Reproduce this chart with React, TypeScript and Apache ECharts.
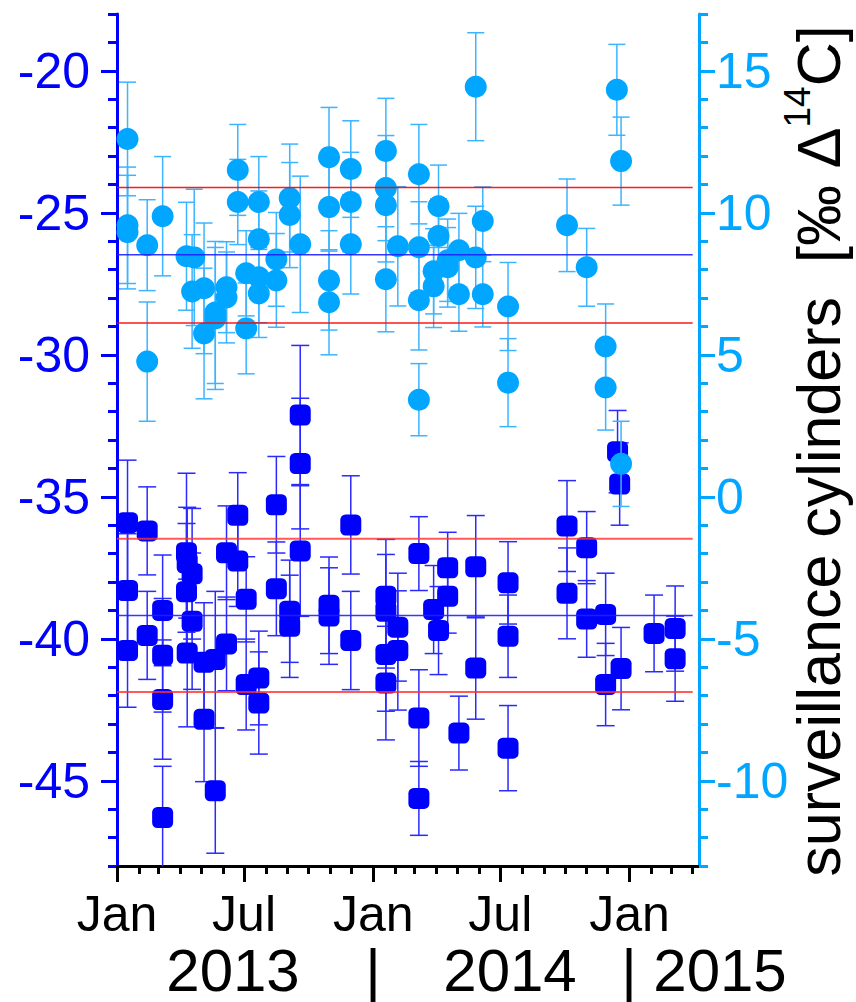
import React, { useEffect, useRef } from "react";
import * as echarts from "echarts";

const FONT = "'Liberation Sans', Arial, Helvetica, sans-serif";

// Light-blue circles (right axis, ‰ Δ14C)
const circleDates = [
  "2013-01-16", "2013-01-16", "2013-01-16", "2013-02-13", "2013-02-13", "2013-03-07",
  "2013-04-10", "2013-04-21", "2013-04-18", "2013-05-05", "2013-05-05", "2013-05-21",
  "2013-05-21", "2013-06-06", "2013-06-06", "2013-06-22", "2013-06-22", "2013-07-04",
  "2013-07-04", "2013-07-22", "2013-07-22", "2013-07-22", "2013-07-22", "2013-08-16",
  "2013-08-16", "2013-09-04", "2013-09-04", "2013-09-19", "2013-10-30", "2013-10-30",
  "2013-10-30", "2013-10-30", "2013-11-30", "2013-11-30", "2013-11-30", "2014-01-19",
  "2014-01-19", "2014-01-19", "2014-01-19", "2014-02-05", "2014-03-07", "2014-03-07",
  "2014-03-07", "2014-03-07", "2014-04-04", "2014-04-04", "2014-03-28", "2014-03-28",
  "2014-04-17", "2014-04-17", "2014-05-03", "2014-05-03", "2014-05-27", "2014-05-27",
  "2014-06-06", "2014-06-06", "2014-07-12", "2014-07-12", "2014-10-04", "2014-11-01",
  "2014-11-28", "2014-11-28", "2014-12-14", "2014-12-20", "2014-12-20",
];
const circleValues = [
  12.6, 9.56, 9.32, 8.86, 4.76, 9.88,
  8.47, 8.43, 7.23, 7.34, 5.75, 6.49,
  6.28, 7.38, 7.02, 11.51, 10.38, 7.87,
  5.93, 10.38, 9.07, 7.73, 7.16, 8.36,
  7.62, 10.52, 9.92, 8.89, 11.96, 10.2,
  7.62, 6.85, 11.54, 10.38, 8.89, 12.18,
  10.87, 10.27, 7.66, 8.82, 11.36, 8.79,
  6.92, 3.42, 10.23, 9.18, 7.94, 7.41,
  8.33, 8.08, 8.68, 7.13, 14.44, 8.43,
  9.71, 7.13, 6.7, 4.02, 9.56, 8.08,
  5.29, 3.85, 14.33, 11.82, 1.16,
];
const circleErrors = [
  2.0, 2.05, 2.0, 1.6, 2.1, 2.1,
  1.9, 2.4, 2.0, 2.3, 2.3, 2.5,
  2.5, 1.6, 1.6, 1.6, 1.5, 1.5,
  1.6, 1.6, 1.7, 1.6, 1.55, 1.65,
  1.65, 1.9, 1.85, 2.4, 1.75, 1.55,
  1.75, 1.85, 1.7, 1.75, 1.75, 1.85,
  1.85, 2.0, 1.85, 2.1, 1.75, 1.6,
  1.75, 1.27, 1.45, 1.3, 1.5, 1.45,
  1.45, 1.4, 1.3, 1.3, 1.9, 1.8,
  1.2, 1.15, 1.55, 1.55, 1.63, 1.37,
  1.5, 1.5, 1.6, 1.55, 1.5,
];

// Blue squares (left axis)
const squareDates = [
  "2013-01-16", "2013-01-16", "2013-01-16", "2013-02-13", "2013-02-13", "2013-03-07",
  "2013-03-07", "2013-03-07", "2013-03-07", "2013-04-10", "2013-04-11", "2013-04-18",
  "2013-04-10", "2013-04-18", "2013-04-11", "2013-05-05", "2013-05-05", "2013-05-21",
  "2013-05-21", "2013-06-06", "2013-06-06", "2013-06-22", "2013-06-22", "2013-07-04",
  "2013-07-04", "2013-07-22", "2013-07-22", "2013-08-16", "2013-08-16", "2013-09-04",
  "2013-09-04", "2013-09-19", "2013-09-19", "2013-09-19", "2013-10-30", "2013-10-30",
  "2013-11-30", "2013-11-30", "2014-01-19", "2014-01-19", "2014-01-19", "2014-01-19",
  "2014-02-05", "2014-02-05", "2014-03-07", "2014-03-07", "2014-03-07", "2014-03-28",
  "2014-04-04", "2014-04-17", "2014-04-17", "2014-05-03", "2014-05-27", "2014-05-27",
  "2014-07-12", "2014-07-12", "2014-07-12", "2014-10-04", "2014-10-04", "2014-11-01",
  "2014-11-01", "2014-11-28", "2014-11-28", "2014-12-15", "2014-12-18", "2014-12-20",
  "2015-02-05", "2015-03-07", "2015-03-07",
];
const squareValues = [
  -35.91, -38.3, -40.41, -36.2, -39.88, -39.0,
  -40.58, -42.14, -46.29, -36.97, -37.32, -37.71,
  -38.34, -39.38, -40.5, -40.83, -42.83, -40.73,
  -45.35, -36.97, -40.18, -35.65, -37.26, -38.61,
  -41.61, -41.38, -42.26, -35.28, -38.24, -39.03,
  -39.56, -32.12, -33.83, -36.91, -38.82, -39.2,
  -35.99, -40.06, -38.5, -39.03, -40.55, -41.56,
  -39.59, -40.41, -37.0, -42.79, -45.62, -38.97,
  -39.71, -37.5, -38.5, -43.32, -37.46, -41.03,
  -38.03, -39.91, -43.85, -36.03, -38.4, -36.79,
  -39.3, -39.14, -41.61, -33.41, -34.55, -41.05,
  -39.81, -39.64, -40.7,
];
const squareErrors = [
  2.2, 2.0, 2.0, 1.55, 1.55, 1.95,
  2.0, 2.1, 1.8, 2.8, 1.95, 2.3,
  2.4, 2.4, 2.6, 2.1, 2.2, 2.4,
  2.2, 1.65, 1.65, 1.5, 1.6, 1.5,
  1.6, 1.65, 1.8, 1.7, 1.65, 1.8,
  1.8, 2.45, 2.3, 2.3, 1.7, 1.7,
  1.73, 1.73, 2.0, 2.0, 2.0, 2.0,
  1.9, 2.1, 1.3, 1.7, 1.3, 1.55,
  1.55, 1.25, 1.3, 1.3, 1.8, 1.8,
  1.45, 1.45, 1.5, 1.6, 1.6, 1.27,
  1.35, 1.45, 1.45, 1.45, 1.45, 1.45,
  1.35, 1.5, 1.5,
];

// Mean and ±1σ reference lines
const upperLines = [10.89, 8.52, 6.12]; // right axis
const lowerLines = [-36.48, -39.18, -41.87]; // left axis
const lineSpan = ["2013-01-01", "2015-04-01"];

// Axes
const xRange = ["2013-01-01", "2015-04-10"];
const xLabelTicks = ["2013-01-01", "2013-07-01", "2014-01-01", "2014-07-01", "2015-01-01"];
const monthTicks = [
  "2013-01-01", "2013-02-01", "2013-03-01", "2013-04-01", "2013-05-01", "2013-06-01",
  "2013-07-01", "2013-08-01", "2013-09-01", "2013-10-01", "2013-11-01", "2013-12-01",
  "2014-01-01", "2014-02-01", "2014-03-01", "2014-04-01", "2014-05-01", "2014-06-01",
  "2014-07-01", "2014-08-01", "2014-09-01", "2014-10-01", "2014-11-01", "2014-12-01",
  "2015-01-01", "2015-02-01", "2015-03-01", "2015-04-01",
];
const monthNames = ["Jan", "Feb", "Mar", "Apr", "May", "Jun", "Jul", "Aug", "Sep", "Oct", "Nov", "Dec"];
const leftRange = [-48, -18];
const leftMajor = [-45, -40, -35, -30, -25, -20];
const rightRange = [-13, 17];
const rightMajor = [-10, -5, 0, 5, 10, 15];
const yearLabels = ["2013", "2014", "2015"];

const toT = (s: string) => Date.parse(s + "T00:00:00Z");

function errRender(capHalf: number, color: string, width: number) {
  return (params: any, api: any) => {
    const x = api.value(0);
    const lo = api.coord([x, api.value(1)]);
    const hi = api.coord([x, api.value(2)]);
    const style = { stroke: color, lineWidth: width, fill: null };
    return {
      type: "group",
      children: [
        { type: "line", shape: { x1: lo[0], y1: lo[1], x2: hi[0], y2: hi[1] }, style },
        { type: "line", shape: { x1: lo[0] - capHalf, y1: lo[1], x2: lo[0] + capHalf, y2: lo[1] }, style },
        { type: "line", shape: { x1: hi[0] - capHalf, y1: hi[1], x2: hi[0] + capHalf, y2: hi[1] }, style },
      ],
    };
  };
}

function intRange(a: number, b: number) {
  const out: number[] = [];
  for (let v = a; v <= b; v++) out.push(v);
  return out;
}

export default function App() {
  const ref = useRef<HTMLDivElement>(null);
  useEffect(() => {
    document.body.style.margin = "0";
    const chart = echarts.init(ref.current!, null, { renderer: "svg" });
    const xMin = toT(xRange[0]);
    const xMax = toT(xRange[1]);
    const majorX = xLabelTicks.map(toT);
    const minorX = monthTicks.map(toT);
    const blue = "#0000ff";
    const lightBlue = "#00a6ff";

    const yAxisCommon = (min: number, max: number, pos: string, color: string, major: number[], minor: boolean, margin: number) => ({
      type: "value",
      min,
      max,
      position: pos,
      axisLine: { show: !minor, onZero: false, lineStyle: { color, width: 3 } },
      axisTick: {
        show: true,
        inside: false,
        customValues: minor ? intRange(min, max) : major,
        length: minor ? 9 : 16,
        lineStyle: { color, width: 3 },
      },
      axisLabel: minor
        ? { show: false }
        : { show: true, customValues: major, fontSize: 50, color, fontFamily: FONT, margin },
      splitLine: { show: false },
    });

    const hLine = (v: number, yIdx: number, color: string, width: number, opacity: number) => ({
      type: "line",
      xAxisIndex: 0,
      yAxisIndex: yIdx,
      data: [[toT(lineSpan[0]), v], [toT(lineSpan[1]), v]],
      symbol: "none",
      silent: true,
      z: 6,
      lineStyle: { color, width, opacity },
    });

    const option: any = {
      animation: false,
      backgroundColor: "#ffffff",
      grid: { left: 117, right: 157, top: 14, bottom: 136, containLabel: false },
      xAxis: [
        {
          type: "value",
          min: xMin,
          max: xMax,
          position: "bottom",
          axisLine: { show: true, onZero: false, lineStyle: { color: "#000", width: 3 } },
          axisTick: { show: true, inside: false, customValues: majorX, length: 16, lineStyle: { color: "#000", width: 3 } },
          axisLabel: {
            show: true,
            customValues: majorX,
            formatter: (v: number) => monthNames[new Date(v).getUTCMonth()],
            fontSize: 50,
            color: "#000",
            fontFamily: FONT,
            margin: 23,
          },
          splitLine: { show: false },
        },
        {
          type: "value",
          min: xMin,
          max: xMax,
          position: "bottom",
          axisLine: { show: false, onZero: false },
          axisTick: { show: true, inside: false, customValues: minorX, length: 8, lineStyle: { color: "#000", width: 3 } },
          axisLabel: { show: false },
          splitLine: { show: false },
        },
      ],
      yAxis: [
        yAxisCommon(leftRange[0], leftRange[1], "left", blue, leftMajor, false, 27),
        yAxisCommon(leftRange[0], leftRange[1], "left", blue, leftMajor, true, 27),
        yAxisCommon(rightRange[0], rightRange[1], "right", lightBlue, rightMajor, false, 17),
        yAxisCommon(rightRange[0], rightRange[1], "right", lightBlue, rightMajor, true, 17),
      ],
      series: [
        {
          type: "custom",
          xAxisIndex: 0,
          yAxisIndex: 0,
          renderItem: errRender(9, "#2a2aff", 1.5),
          data: squareDates.map((d, i) => [toT(d), squareValues[i] - squareErrors[i], squareValues[i] + squareErrors[i]]),
          encode: { x: 0, y: [1, 2] },
          clip: true,
          silent: true,
          z: 2,
        },
        {
          type: "scatter",
          xAxisIndex: 0,
          yAxisIndex: 0,
          symbol: "roundRect",
          symbolSize: 21,
          itemStyle: { color: blue, opacity: 1 },
          data: squareDates.map((d, i) => [toT(d), squareValues[i]]),
          silent: true,
          z: 3,
        },
        {
          type: "custom",
          xAxisIndex: 0,
          yAxisIndex: 2,
          renderItem: errRender(8.5, "#3cb4ff", 1.5),
          data: circleDates.map((d, i) => [toT(d), circleValues[i] - circleErrors[i], circleValues[i] + circleErrors[i]]),
          encode: { x: 0, y: [1, 2] },
          clip: true,
          silent: true,
          z: 4,
        },
        {
          type: "scatter",
          xAxisIndex: 0,
          yAxisIndex: 2,
          symbol: "circle",
          symbolSize: 22,
          itemStyle: { color: lightBlue, opacity: 1 },
          data: circleDates.map((d, i) => [toT(d), circleValues[i]]),
          silent: true,
          z: 5,
        },
        hLine(upperLines[0], 2, "#ff0000", 1.5, 0.9),
        hLine(upperLines[1], 2, "#2020ff", 1.5, 0.9),
        hLine(upperLines[2], 2, "#ff0000", 1.5, 0.9),
        hLine(lowerLines[0], 0, "#ff3030", 2, 0.8),
        hLine(lowerLines[1], 0, "#2020ff", 1.5, 0.9),
        hLine(lowerLines[2], 0, "#ff3030", 2, 0.8),
      ],
      graphic: {
        elements: [
          {
            type: "text",
            x: 819,
            y: 451,
            rotation: Math.PI / 2,
            style: {
              text: "{a|surveillance cylinders\u00a0\u00a0[‰ Δ}{s|14}{a|C]}",
              rich: {
                a: { fontSize: 61, fontFamily: FONT, fill: "#000", lineHeight: 80, verticalAlign: "middle" },
                s: { fontSize: 37, fontFamily: FONT, fill: "#000", verticalAlign: "top" },
              },
              align: "center",
              verticalAlign: "middle",
              textAlign: "center",
              textVerticalAlign: "middle",
            },
          },
          ...[
            { t: yearLabels[0], x: 233 },
            { t: "|", x: 373 },
            { t: yearLabels[1], x: 510 },
            { t: "|", x: 629 },
            { t: yearLabels[2], x: 720 },
          ].map((o) => ({
            type: "text",
            x: o.x,
            y: 970,
            style: {
              text: o.t,
              fontSize: 60,
              lineHeight: 48,
              fontFamily: FONT,
              fill: "#000",
              align: "center",
              verticalAlign: "middle",
              textAlign: "center",
              textVerticalAlign: "middle",
            },
          })),
        ],
      },
    };
    chart.setOption(option);
    return () => chart.dispose();
  }, []);
  return <div ref={ref} style={{ position: "absolute", left: 0, top: 0, width: 856, height: 1002 }} />;
}
